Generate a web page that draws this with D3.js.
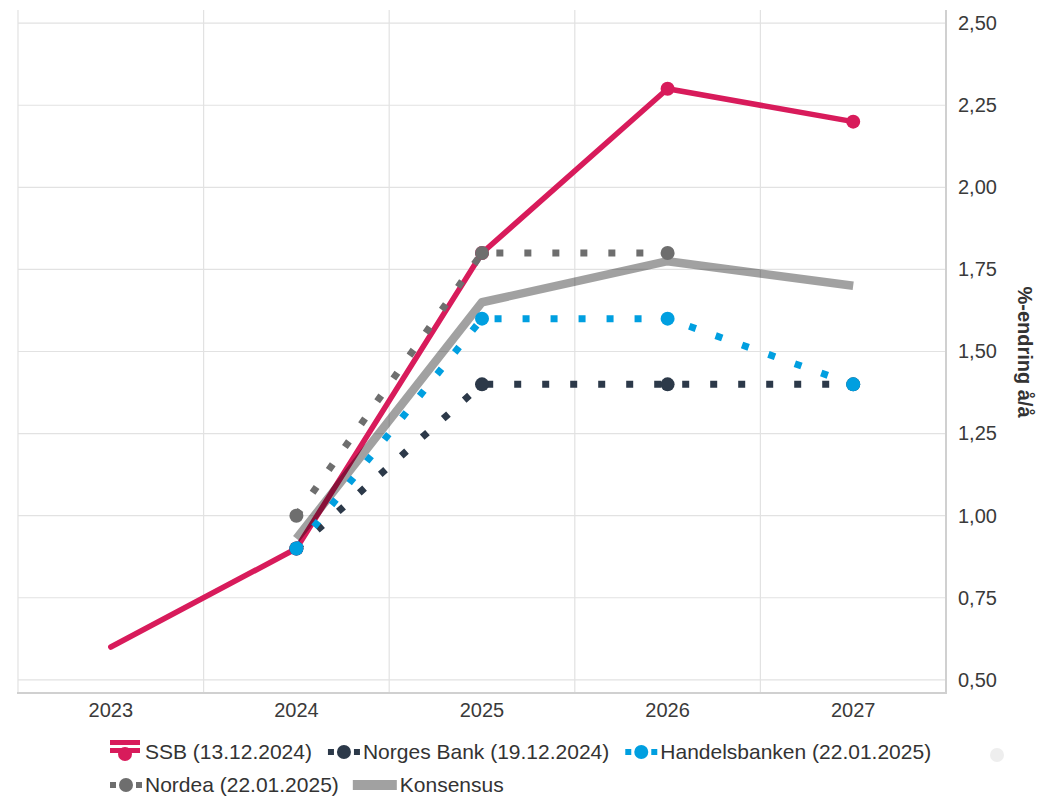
<!DOCTYPE html>
<html lang="no">
	<head>
		<meta charset="utf-8">
		<title>prognoser</title>
		<script type="text/javascript" src="https://cdn.jsdelivr.net/npm/d3@7"></script>
		<style type="text/css">
			body { margin:0; background:#fff; }
			svg text { font-family:"Liberation Sans", Arial, sans-serif; }
		</style>
	</head>
	<body>
		<div id="chart"></div>
		<script type="text/javascript">

// data
var years = ["2023","2024","2025","2026","2027"]
var ssb = [0.6, 0.9, 1.8, 2.3, 2.2]
var ssbMarkers = [false, true, true, true, true]
var norgesBank = [null, 0.9, 1.4, 1.4, 1.4]
var handelsbanken = [null, 0.9, 1.6, 1.6, 1.4]
var nordea = [null, 1.0, 1.8, 1.8, null]
var konsensus = [null, 0.93, 1.65, 1.775, 1.7]
var yTicks = [0.5, 0.75, 1.0, 1.25, 1.5, 1.75, 2.0, 2.25, 2.5]
var legendNames = ["SSB (13.12.2024)","Norges Bank (19.12.2024)","Handelsbanken (22.01.2025)","Nordea (22.01.2025)","Konsensus"]

var w = 1038
var h = 796
var pLeft = 18, pRight = 946, pTop = 10, pBottom = 693

var svg = d3.select("#chart").append("svg")
	.attr("width",w)
	.attr("height",h)

var xScale = d3.scaleBand().domain(years).range([pLeft,pRight])
var yScale = d3.scaleLinear().domain([0.46,2.54]).range([pBottom,pTop])

var fmt = function(d){ return d3.format(".2f")(d).replace(".",",") }

// grid
var grid = svg.append("g")
grid.selectAll(".hg").data(yTicks).enter().append("line")
	.attr("x1",pLeft).attr("x2",pRight)
	.attr("y1",function(d){return yScale(d)}).attr("y2",function(d){return yScale(d)})
	.attr("stroke","#e2e2e2").attr("stroke-width",1.2)
var edges = years.map(function(y){return xScale(y)}).concat([pRight])
grid.selectAll(".vg").data(edges).enter().append("line")
	.attr("x1",function(d){return d}).attr("x2",function(d){return d})
	.attr("y1",pTop).attr("y2",pBottom)
	.attr("stroke","#e2e2e2").attr("stroke-width",1.2)

// axes
var yAxis = d3.axisRight(yScale).tickValues(yTicks).tickSize(0).tickPadding(12).tickFormat(fmt)
var yg = svg.append("g").attr("transform","translate("+pRight+",0)").call(yAxis)
yg.select(".domain").remove()
yg.selectAll("text").attr("font-size",20).attr("fill","#3a3a3a").style("font-family","Liberation Sans, Arial, sans-serif")
svg.append("line").attr("x1",pRight).attr("x2",pRight).attr("y1",pTop).attr("y2",pBottom+1)
	.attr("stroke","#d0d0d0").attr("stroke-width",2)

var xAxis = d3.axisBottom(xScale).tickSize(0).tickPadding(10)
var xg = svg.append("g").attr("transform","translate(0,"+pBottom+")").call(xAxis)
xg.select(".domain").remove()
xg.selectAll("text").attr("font-size",20).attr("fill","#3a3a3a").style("font-family","Liberation Sans, Arial, sans-serif")
svg.append("line").attr("x1",pLeft-1).attr("x2",pRight).attr("y1",pBottom).attr("y2",pBottom)
	.attr("stroke","#d0d0d0").attr("stroke-width",2)

svg.append("text")
	.text("%-endring å/å")
	.attr("transform","translate(1018,352) rotate(90)")
	.attr("text-anchor","middle")
	.attr("font-size",20)
	.attr("font-weight","bold")
	.attr("fill","#333")

var cx = function(i){ return xScale(years[i]) + xScale.bandwidth()/2 }

function series(values,color,width,dash,opacity,markers){
	var pts = []
	values.forEach(function(v,i){ if(v!=null) pts.push([i,v]) })
	var line = d3.line()
		.x(function(d){return cx(d[0])})
		.y(function(d){return yScale(d[1])})
	var path = svg.append("path")
		.datum(pts)
		.attr("d",line)
		.attr("fill","none")
		.attr("stroke",color)
		.attr("stroke-width",width)
		.attr("stroke-opacity",opacity)
		.attr("stroke-linejoin","round")
	if(dash){
		path.style("stroke-dasharray",dash)
	}else if(opacity==1){
		path.attr("stroke-linecap","round")
	}
	if(markers){
		svg.selectAll(null)
			.data(pts.filter(function(d){ return markers===true || markers[d[0]] }))
			.enter().append("circle")
			.attr("cx",function(d){return cx(d[0])})
			.attr("cy",function(d){return yScale(d[1])})
			.attr("r",7)
			.attr("fill",color)
	}
}

series(ssb,"#d81b5b",5.5,null,1,ssbMarkers)
series(konsensus,"#000",8.5,null,0.37,null)
series(norgesBank,"#2c3949",7,"7,21",1,true)
series(handelsbanken,"#009fe0",7,"7,21",1,true)
series(nordea,"#6e6e6e",7,"7,21",1,true)

// legend
var legend = svg.append("g")
var legendColors = ["#d81b5b","#2c3949","#009fe0","#6e6e6e","#a1a1a1"]
var lx = 108, ly = 752
legendNames.forEach(function(name,i){
	if(i==3){ lx = 108; ly = 785 }
	var g = legend.append("g").attr("transform","translate("+lx+","+ly+")")
	var c = legendColors[i]
	if(i==0){
		g.append("rect").attr("x",2).attr("y",-12).attr("width",30).attr("height",5).attr("fill",c)
		g.append("rect").attr("x",2).attr("y",-4).attr("width",30).attr("height",5).attr("fill",c)
		g.append("circle").attr("cx",17).attr("cy",2).attr("r",7).attr("fill",c)
	}else if(i==4){
		g.append("rect").attr("x",0).attr("y",-5).attr("width",44).attr("height",10).attr("fill",c)
	}else{
		g.append("rect").attr("x",2).attr("y",-3).attr("width",6).attr("height",6).attr("fill",c)
		g.append("circle").attr("cx",18).attr("cy",0).attr("r",7).attr("fill",c)
		g.append("rect").attr("x",28).attr("y",-3).attr("width",6).attr("height",6).attr("fill",c)
	}
	var tx = (i==4) ? 47 : 37
	var t = g.append("text").text(name)
		.attr("x",tx).attr("y",7)
		.attr("font-size",21)
		.attr("fill","#333")
	lx += tx + t.node().getComputedTextLength() + 14
})
legend.append("circle").attr("cx",997).attr("cy",755).attr("r",7).attr("fill","#eeeeee")

		</script>
	</body>
</html>
